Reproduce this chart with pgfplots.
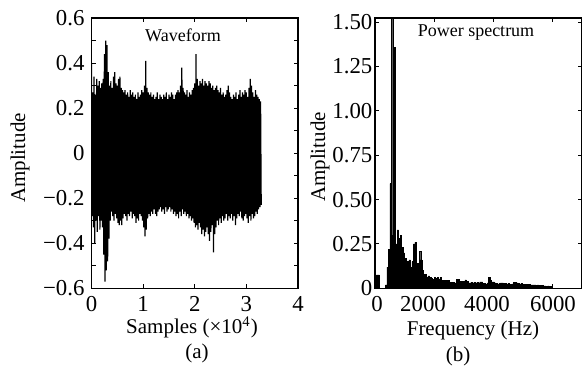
\documentclass[border=0pt]{standalone}
\usepackage{fontspec}
\setmainfont{Liberation Serif}
\usepackage{pgfplots}
\pgfplotsset{compat=1.18}
\begin{document}
\begin{tikzpicture}[x=1pt,y=1pt]
\useasboundingbox (0,0) rectangle (291,189.5);
\pgfplotsset{
  common/.style={
    scale only axis,
    anchor=south west,
    tick align=inside,
    major tick length=2pt, minor tick length=2pt,
    tick style={black, line width=0.5pt},
    axis line style={line width=0.6pt},
    ticklabel style={font=\fontsize{11.4}{13}\selectfont},
    xticklabel style={yshift=-0.5pt},
  }
}
% ---------- (a) Waveform ----------
\begin{axis}[common,
  at={(45.75pt,45.35pt)},
  width=103.25pt, height=135.15pt,
  xmin=0, xmax=4, ymin=-0.6, ymax=0.6,
  xtick={0,1,2,3,4}, xticklabels={0,1,2,3,4},
  ytick={-0.6,-0.4,-0.2,0,0.2,0.4,0.6},
  yticklabels={−0.6,−0.4,−0.2,0,0.2,0.4,0.6},
  minor ytick={-0.5,-0.3,-0.1,0.1,0.3,0.5},
]
\addplot[black, line width=0.6pt, line join=bevel, mark=none] coordinates {
(0,0.40) (0.0125,-0.28) (0.025,0.27) (0.0375,-0.33) (0.05,0.34) (0.0625,-0.40)
(0.075,0.26) (0.0875,-0.30) (0.1,0.33) (0.1125,-0.35) (0.125,0.30) (0.1375,-0.28)
(0.15,0.32) (0.1625,-0.34) (0.175,0.29) (0.1875,-0.30) (0.2,0.31) (0.2125,-0.33)
(0.225,0.33) (0.2375,-0.45) (0.25,0.44) (0.2625,-0.57) (0.275,0.50) (0.2875,-0.52)
(0.3,0.48) (0.3125,-0.48) (0.325,0.36) (0.3375,-0.38) (0.35,0.30) (0.3625,-0.30)
(0.375,0.32) (0.3875,-0.26) (0.4,0.29) (0.4125,-0.28) (0.425,0.34) (0.4375,-0.30)
(0.45,0.36) (0.4625,-0.27) (0.475,0.31) (0.4875,-0.29) (0.5,0.30) (0.5125,-0.31)
(0.525,0.33) (0.5375,-0.32) (0.55,0.34) (0.5625,-0.30) (0.575,0.29) (0.5875,-0.32)
(0.6,0.28) (0.6125,-0.29) (0.625,0.27) (0.6375,-0.27) (0.65,0.28) (0.6625,-0.28)
(0.675,0.26) (0.6875,-0.30) (0.7,0.27) (0.7125,-0.27) (0.725,0.25) (0.7375,-0.28)
(0.75,0.28) (0.7625,-0.26) (0.775,0.26) (0.7875,-0.29) (0.8,0.27) (0.8125,-0.27)
(0.825,0.25) (0.8375,-0.28) (0.85,0.26) (0.8625,-0.31) (0.875,0.24) (0.8875,-0.29)
(0.9,0.27) (0.9125,-0.30) (0.925,0.25) (0.9375,-0.27) (0.95,0.26) (0.9625,-0.28)
(0.975,0.28) (0.9875,-0.30) (1.0,0.27) (1.0125,-0.33) (1.025,0.30) (1.0375,-0.37)
(1.05,0.41) (1.0625,-0.34) (1.075,0.29) (1.0875,-0.29) (1.1,0.27) (1.1125,-0.27)
(1.125,0.26) (1.1375,-0.28) (1.15,0.27) (1.1625,-0.26) (1.175,0.25) (1.1875,-0.27)
(1.2,0.26) (1.2125,-0.25) (1.225,0.24) (1.2375,-0.27) (1.25,0.25) (1.2625,-0.28)
(1.275,0.27) (1.2875,-0.26) (1.3,0.24) (1.3125,-0.25) (1.325,0.26) (1.3375,-0.24)
(1.35,0.25) (1.3625,-0.26) (1.375,0.24) (1.3875,-0.25) (1.4,0.26) (1.4125,-0.27)
(1.425,0.25) (1.4375,-0.24) (1.45,0.27) (1.4625,-0.26) (1.475,0.24) (1.4875,-0.25)
(1.5,0.26) (1.5125,-0.24) (1.525,0.25) (1.5375,-0.26) (1.55,0.27) (1.5625,-0.25)
(1.575,0.26) (1.5875,-0.27) (1.6,0.24) (1.6125,-0.26) (1.625,0.26) (1.6375,-0.28)
(1.65,0.27) (1.6625,-0.27) (1.675,0.28) (1.6875,-0.29) (1.7,0.27) (1.7125,-0.26)
(1.725,0.30) (1.7375,-0.28) (1.75,0.38) (1.7625,-0.25) (1.775,0.29) (1.7875,-0.27)
(1.8,0.27) (1.8125,-0.26) (1.825,0.26) (1.8375,-0.28) (1.85,0.28) (1.8625,-0.27)
(1.875,0.25) (1.8875,-0.29) (1.9,0.27) (1.9125,-0.28) (1.925,0.26) (1.9375,-0.30)
(1.95,0.28) (1.9625,-0.29) (1.975,0.29) (1.9875,-0.31) (2.0,0.31) (2.0125,-0.33)
(2.025,0.44) (2.0375,-0.32) (2.05,0.33) (2.0625,-0.34) (2.075,0.30) (2.0875,-0.31)
(2.1,0.32) (2.1125,-0.33) (2.125,0.31) (2.1375,-0.36) (2.15,0.33) (2.1625,-0.34)
(2.175,0.30) (2.1875,-0.37) (2.2,0.32) (2.2125,-0.35) (2.225,0.31) (2.2375,-0.33)
(2.25,0.30) (2.2625,-0.36) (2.275,0.32) (2.2875,-0.39) (2.3,0.31) (2.3125,-0.35)
(2.325,0.29) (2.3375,-0.32) (2.35,0.30) (2.3625,-0.44) (2.375,0.28) (2.3875,-0.36)
(2.4,0.29) (2.4125,-0.33) (2.425,0.30) (2.4375,-0.30) (2.45,0.28) (2.4625,-0.32)
(2.475,0.27) (2.4875,-0.29) (2.5,0.29) (2.5125,-0.31) (2.525,0.26) (2.5375,-0.28)
(2.55,0.27) (2.5625,-0.30) (2.575,0.25) (2.5875,-0.29) (2.6,0.26) (2.6125,-0.27)
(2.625,0.28) (2.6375,-0.30) (2.65,0.30) (2.6625,-0.28) (2.675,0.27) (2.6875,-0.29)
(2.7,0.25) (2.7125,-0.27) (2.725,0.24) (2.7375,-0.30) (2.75,0.26) (2.7625,-0.28)
(2.775,0.25) (2.7875,-0.32) (2.8,0.27) (2.8125,-0.29) (2.825,0.24) (2.8375,-0.27)
(2.85,0.26) (2.8625,-0.28) (2.875,0.28) (2.8875,-0.26) (2.9,0.25) (2.9125,-0.29)
(2.925,0.27) (2.9375,-0.30) (2.95,0.26) (2.9625,-0.28) (2.975,0.28) (2.9875,-0.27)
(3.0,0.27) (3.0125,-0.29) (3.025,0.25) (3.0375,-0.31) (3.05,0.29) (3.0625,-0.28)
(3.075,0.33) (3.0875,-0.30) (3.1,0.30) (3.1125,-0.27) (3.125,0.27) (3.1375,-0.29)
(3.15,0.25) (3.1625,-0.28) (3.175,0.28) (3.1875,-0.26) (3.2,0.26) (3.2125,-0.27)
(3.225,0.25) (3.2375,-0.25) (3.25,0.24) (3.2625,-0.24) (3.275,0.23) (3.2875,-0.23)
};
\end{axis}
% ---------- (b) Power spectrum ----------
\begin{axis}[common,
  at={(187.5pt,45.35pt)},
  width=103.25pt, height=135.15pt,
  xmin=0, xmax=7000, ymin=0, ymax=1.524,
  xtick={0,2000,4000,6000}, xticklabels={},
  extra x ticks={68,1627,3797,6034},
  extra x tick labels={0,2000,4000,6000},
  extra x tick style={major tick length=0pt, tick style={draw=none}},
  ytick={0,0.25,0.5,0.75,1,1.25,1.5},
  yticklabels={0,0.25,0.50,0.75,1.00,1.25,1.50},
  yticklabel style={xshift=2.2pt},
]
\addplot[fill=black, draw=black, line width=0.2pt, const plot mark left, mark=none] coordinates {
(0,0) (50,0.075) (100,0.075) (150,0) (200,0) (250,0) (300,0) (350,0.02)
(400,0.12) (450,0.22) (500,0.59) (550,1.60) (600,0.30) (650,1.36) (700,0.25)
(750,0.33) (800,0.28) (850,0.30) (900,0.23) (950,0.20) (1000,0.17) (1050,0.13)
(1100,0.15) (1150,0.16) (1200,0.12) (1250,0.15) (1300,0.25) (1350,0.26)
(1400,0.14) (1450,0.14) (1500,0.21) (1550,0.16) (1600,0.10) (1650,0.08)
(1700,0.08) (1750,0.065) (1800,0.07) (1850,0.06) (1900,0.055) (1950,0.05)
(2000,0.06) (2050,0.055) (2100,0.06) (2150,0.05) (2200,0.06) (2250,0.045)
(2300,0.04) (2350,0.045) (2400,0.04) (2450,0.045) (2500,0.035) (2550,0.035)
(2600,0.03) (2650,0.035) (2700,0.03) (2750,0.05) (2800,0.05) (2850,0.04)
(2900,0.04) (2950,0.035) (3000,0.04) (3050,0.047) (3100,0.04) (3150,0.03)
(3200,0.03) (3250,0.033) (3300,0.03) (3350,0.033) (3400,0.03) (3450,0.033)
(3500,0.03) (3550,0.036) (3600,0.036) (3650,0.027) (3700,0.027) (3750,0.025)
(3800,0.03) (3850,0.06) (3900,0.045) (3950,0.036) (4000,0.036) (4050,0.03)
(4100,0.027) (4150,0.025) (4200,0.027) (4250,0.031) (4300,0.031) (4350,0.028)
(4400,0.027) (4450,0.025) (4500,0.027) (4550,0.024) (4600,0.022) (4650,0.025)
(4700,0.035) (4750,0.035) (4800,0.03) (4850,0.027) (4900,0.025) (4950,0.027)
(5000,0.024) (5050,0.022) (5100,0.024) (5150,0.022) (5200,0.024) (5250,0.02)
(5300,0.02) (5350,0.019) (5400,0.02) (5450,0.018) (5500,0.02) (5550,0.018)
(5600,0.017) (5650,0.015) (5700,0.013) (5750,0.013) (5800,0.012) (5850,0.013)
(5900,0.012) (5950,0.012) (6000,0) (6050,0)
} \closedcycle;
\end{axis}
% ---------- texts ----------
\node[font=\fontsize{9}{11}\selectfont] at (91.5,172) {Waveform};
\node[font=\fontsize{9}{11}\selectfont] at (238,173) {Power spectrum};
\node[font=\fontsize{10.5}{12}\selectfont, rotate=90] at (10,110.5) {Amplitude};
\node[font=\fontsize{10.5}{12}\selectfont, rotate=90] at (160,111) {Amplitude};
\node[font=\fontsize{10.5}{12}\selectfont, anchor=base] at (96,22.5) {Samples (×10\textsuperscript{4})};
\node[font=\fontsize{10.5}{12}\selectfont, anchor=base] at (236.5,21.5) {Frequency (Hz)};
\node[font=\fontsize{10.5}{12}\selectfont, anchor=base] at (98.5,10) {(a)};
\node[font=\fontsize{10.5}{12}\selectfont, anchor=base] at (229,9) {(b)};
\end{tikzpicture}
\end{document}
